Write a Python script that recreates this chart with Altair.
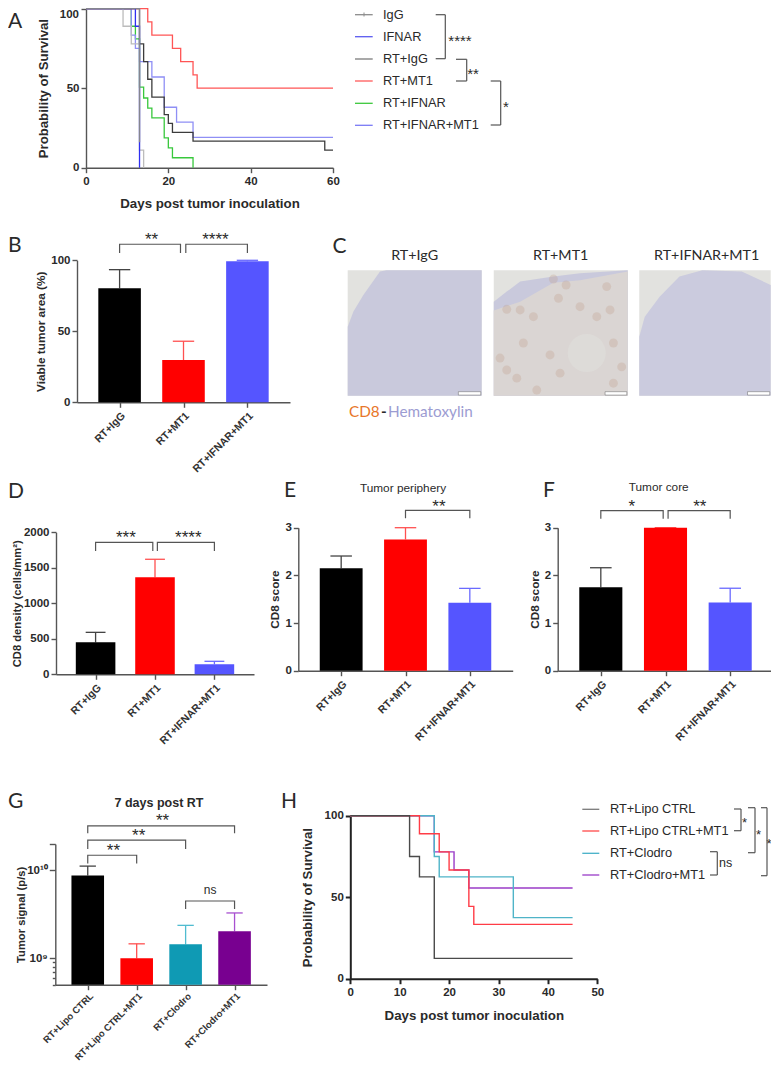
import altair as alt
import pandas as pd

# ---------- data ----------
A_SERIES = [
    ("RT+IFNAR", [0, 11, 12, 13, 14, 15, 16, 19, 20, 21, 26], [100, 88.9, 81, 50.6, 43.8, 37.5, 31.3, 18.8, 12.5, 6.25, 0], "#38c83c"),
    ("RT+IFNAR+MT1", [0, 11, 12, 13, 16, 19, 22, 26, 60], [100, 83.3, 75, 66.7, 57, 38, 28.6, 19, 19], "#8f8ff5"),
    ("RT+IgG", [0, 13, 14, 15, 16, 19, 20, 21, 26, 58, 60], [100, 77.8, 66.7, 55.6, 44.4, 33.3, 27.8, 22.2, 16.7, 11.1, 11.1], "#3c3c3c"),
    ("RT+MT1", [0, 15, 16, 21, 23, 26, 27, 60], [100, 91.7, 83.3, 75, 66.7, 58.3, 50, 50], "#ff5555"),
    ("IgG light", [0, 9, 11, 13, 14], [100, 88.9, 77.8, 11.1, 0], "#bcbcbc"),
    ("IFNAR", [0, 12, 13], [100, 88.9, 0], "#2f2ff0"),
    ("IgG", [0, 13, 13.001], [100, 100, 16], "#85858f"),
]
H_SERIES = [
    ("RT+Clodro+MT1", [0, 17, 21, 24, 45], [100, 77.8, 66.7, 55.6, 55.6], "#9a3cc8"),
    ("RT+Clodro", [0, 17, 18, 33, 45], [100, 75, 62.5, 37.5, 37.5], "#4fb4c8"),
    ("RT+Lipo CTRL+MT1", [0, 14, 18, 20, 24, 25, 45], [100, 88.9, 77.8, 66.7, 44.4, 33.3, 33.3], "#ff3c46"),
    ("RT+Lipo CTRL", [0, 12, 14, 17, 45], [100, 75, 62.5, 12.5, 12.5], "#4a4a4a"),
]
GROUPS3 = ["RT+IgG", "RT+MT1", "RT+IFNAR+MT1"]
GROUPS4 = ["RT+Lipo CTRL", "RT+Lipo CTRL+MT1", "RT+Clodro", "RT+Clodro+MT1"]
B_VAL, B_HI = [80.3, 29.8, 99.3], [93.4, 43, 100]
D_VAL, D_HI = [450, 1366, 141], [591, 1620, 183]
E_VAL, E_HI = [2.147, 2.755, 1.427], [2.406, 3.0, 1.727]
F_VAL, F_HI = [1.75, 3.0, 1.43], [2.16, 3.0, 1.73]
G_VAL, G_HI = [8.78e9, 1.0e9, 1.44e9, 2.03e9], [1.12e10, 1.46e9, 2.37e9, 3.28e9]

FILL3 = ["#000000", "#ff0000", "#5555ff"]
ERR3 = ["#444444", "#ff5050", "#6a6aff"]
FILL4 = ["#000000", "#ff0000", "#0f9ab4", "#780090"]
ERR4 = ["#444444", "#ff5050", "#50bcd0", "#a850d0"]

AX = "#555555"
TXT = "#2a2a2a"
SANS = "Liberation Sans"
CAL = "Lato"
W, H = 763, 1055
O = 8  # page margin: image pixels to chart pixels

LAYERS = []


def txt(s, x, y, size=12.8, font=SANS, weight="normal", color=TXT, align="left", baseline="middle", **kw):
    LAYERS.append(alt.Chart().mark_text(text=s, fontSize=size, font=font, fontWeight=weight, color=color,
                                        align=align, baseline=baseline, **kw).encode(
        x=alt.value(x - O), y=alt.value(y - O)))


def seg(x1, y1, x2, y2, color="#555555", w=1.2):
    if y1 == y2:
        LAYERS.append(alt.Chart().mark_rule(color=color, strokeWidth=w).encode(
            x=alt.value(x1 - O), x2=alt.value(x2 - O), y=alt.value(y1 - O)))
    else:
        LAYERS.append(alt.Chart().mark_rule(color=color, strokeWidth=w).encode(
            x=alt.value(x1 - O), y=alt.value(y1 - O), y2=alt.value(y2 - O)))


def legend_bracket(x1, x2, y1, y2):
    seg(x1, y1, x2, y1)
    seg(x2, y1, x2, y2)
    seg(x1, y2, x2, y2)


def yaxis(x0, values, title, pad, tick_w=1.4, color=AX, title_size=11.8, **kw):
    kw.setdefault("format", "d")
    return alt.Axis(values=values, title=title, orient="left", offset=-(x0 - O), grid=False, domainColor=color,
                    domainWidth=tick_w, tickColor=color, tickWidth=tick_w, tickSize=kw.pop("tickSize", 5), labelFont=SANS,
                    labelFontWeight="bold", labelFontSize=11.5, labelColor=TXT, labelPadding=2, labelOverlap=False,
                    titleFont=SANS, titleFontWeight="bold", titleFontSize=title_size, titleColor=TXT,
                    titlePadding=pad, **kw)


def xaxis_names(ybot, values, names, pad=3, size=11):
    expr = "[" + ",".join("'%s'" % n for n in names) + "][datum.value]"
    return alt.Axis(values=values, title=None, orient="bottom", offset=-(H - (ybot - O)), grid=False, domainColor=AX,
                    domainWidth=1.4, tickColor=AX, tickWidth=1.4, tickSize=5, labelExpr=expr, labelAngle=-45,
                    labelAlign="right", labelBaseline="top", labelFont=SANS, labelFontWeight="bold", labelFontSize=size,
                    labelColor="#333333", labelPadding=pad, labelOverlap=False, labelBound=False, labelFlush=False)


def xaxis_num(ybot, values, title, pad, tick_w=1.4, color=AX):
    return alt.Axis(values=values, title=title, orient="bottom", offset=-(H - (ybot - O)), grid=False, domainColor=color,
                    domainWidth=tick_w, tickColor=color, tickWidth=tick_w, tickSize=5, format="d", labelFont=SANS,
                    labelFontWeight="bold", labelFontSize=11.5, labelColor=TXT, labelPadding=3, labelOverlap=False,
                    labelFlush=False, titleFont=SANS, titleFontWeight="bold", titleFontSize=13.3, titleColor=TXT,
                    titlePadding=pad)


def km(series, sx, sy, xax, yax, width=1.3):
    for k, (name, t, s, col) in enumerate(series):
        df = pd.DataFrame({"t": t, "s": s})
        LAYERS.append(alt.Chart(df).mark_line(interpolate="step-after", color=col, strokeWidth=width, clip=False).encode(
            x=alt.X("t:Q", scale=sx, axis=xax if k == 0 else None),
            y=alt.Y("s:Q", scale=sy, axis=yax if k == 0 else None),
        ))


def bar_panel(plot, names, vals, his, fills, errs, ydom, yvals, ytitle, brackets, stars, ypad,
              ylog=False, yaxis_extra=None, floor=0, size=10.6, xpad=3, title_size=11.8):
    x0, x1, ytop, ybot = plot
    n = len(names)
    step_pad = 0.6665 if n == 3 else 0.663
    sx = alt.Scale(domain=[-step_pad, n - 1 + step_pad], range=[x0 - O, x1 - O], nice=False, zero=False)
    kw = dict(type="log", base=10) if ylog else {}
    sy = alt.Scale(domain=ydom, range=[ybot - O, ytop - O], nice=False, zero=False, **kw)
    df = pd.DataFrame({"i": list(range(n)), "v": vals, "hi": his, "fill": fills, "err": errs})
    df["l"] = df.i - 0.333
    df["r"] = df.i + 0.333
    df["cl"] = df.i - 0.167
    df["cr"] = df.i + 0.167
    df["base"] = floor
    yax = yaxis(x0, yvals, ytitle, ypad, title_size=title_size, **(yaxis_extra or {}))
    xax = xaxis_names(ybot, list(range(n)), names, size=size, pad=xpad)
    LAYERS.append(alt.Chart(df).mark_rule(strokeWidth=1.3).encode(
        x=alt.X("i:Q", scale=sx, axis=xax), y=alt.Y("v:Q", scale=sy, axis=yax), y2="hi:Q",
        color=alt.Color("err:N", scale=None)))
    LAYERS.append(alt.Chart(df).mark_rule(strokeWidth=1.3).encode(
        x=alt.X("cl:Q", scale=sx, axis=None), x2="cr:Q", y=alt.Y("hi:Q", scale=sy, axis=None),
        color=alt.Color("err:N", scale=None)))
    LAYERS.append(alt.Chart(df).mark_rect().encode(
        x=alt.X("l:Q", scale=sx, axis=None), x2="r:Q", y=alt.Y("v:Q", scale=sy, axis=None), y2="base:Q",
        color=alt.Color("fill:N", scale=None)))
    rows = []
    for b, (xa, xb, top, la, lb) in enumerate(brackets):
        rows += [dict(b=b, k=0, x=xa, y=la), dict(b=b, k=1, x=xa, y=top), dict(b=b, k=2, x=xb, y=top), dict(b=b, k=3, x=xb, y=lb)]
    LAYERS.append(alt.Chart(pd.DataFrame(rows)).mark_line(color="#555555", strokeWidth=1.2, clip=False).encode(
        x=alt.X("x:Q", scale=sx, axis=None), y=alt.Y("y:Q", scale=sy, axis=None), detail="b:N", order="k:Q"))
    for (sxv, syv, s) in stars:
        is_star = "*" in s
        LAYERS.append(alt.Chart(pd.DataFrame({"x": [sxv], "y": [syv]})).mark_text(
            text=s, fontSize=17 if is_star else 12, font=SANS, color=TXT, baseline="middle", align="center",
            dy=4 if is_star else 0).encode(
            x=alt.X("x:Q", scale=sx, axis=None), y=alt.Y("y:Q", scale=sy, axis=None)))


# ---------- A ----------
Ax0, Ax1, Atop, Abot = 86, 333, 8.6, 167.7
a_sx = alt.Scale(domain=[0, 60], range=[Ax0 - O, Ax1 - O], nice=False, zero=False)
a_sy = alt.Scale(domain=[0, 100], range=[Abot - O, Atop - O], nice=False, zero=False)
a_yax = yaxis(Ax0, [0, 50, 100], "Probability of Survival", 16, title_size=13.2,
              labelExpr="datum.value==100?'':datum.label")
a_xax = xaxis_num(Abot, [0, 20, 40, 60], "Days post tumor inoculation", 9)
km(A_SERIES, a_sx, a_sy, a_xax, a_yax, 1.3)
LAYERS.append(alt.Chart(pd.DataFrame({"y": [100]})).mark_text(
    text="100", fontSize=11.5, font=SANS, fontWeight="bold", color=TXT, align="right", baseline="top", dx=-7).encode(
    x=alt.value(Ax0 - O), y=alt.Y("y:Q", scale=a_sy, axis=None)))
txt("A", 8, 11, 21, CAL, baseline="top")
A_LEG = [("IgG", "#8c8c8c", 14.7), ("IFNAR", "#5a5af0", 36.7), ("RT+IgG", "#7a7a7a", 59), ("RT+MT1", "#ff5a5a", 81),
         ("RT+IFNAR", "#3cc83c", 103.3), ("RT+IFNAR+MT1", "#7a7af5", 125.3)]
for name, col, y in A_LEG:
    seg(355, y, 372.7, y, col, 1.3)
    txt(name, 383, y, 12.8)
seg(364, 12.5, 364, 16.5, "#8c8c8c", 1)
legend_bracket(435.7, 445.3, 14.7, 58.7)
legend_bracket(456, 466.7, 59.3, 81)
legend_bracket(490.7, 500.7, 81, 125)
txt("****", 460, 41, 15, align="center")
txt("**", 473, 74, 15, align="center")
txt("*", 506, 107, 15, align="center")

# ---------- B ----------
bar_panel((77, 290, 260.3, 402.3), GROUPS3, B_VAL, B_HI, FILL3, ERR3, [0, 100], [0, 50, 100],
          "Viable tumor area (%)",
          [(0, 0.953, 111.3, 105.2, 105.2), (1.036, 2, 111.3, 105.2, 105.2)],
          [(0.5, 117.4, "**"), (1.5, 117.4, "****")], 4)
txt("B", 8, 246, 21, CAL)

# ---------- C ----------
C_RECT_L = [0, 1.09, 2.176]
C_RECT_R = [1, 2.09, 3.157]
C1_X, C1_Y = [0, 0.042, 0.117, 0.241, 0.29, 1], [0.45, 0.33, 0.197, 0.01, 0, 0]
C2A_X, C2A_Y = [1.09, 1.187, 1.287, 1.535, 1.734, 2.09], [0.25, 0.17, 0.09, 0.05, 0.024, 0]
C2B_X, C2B_Y = [1.09, 1.287, 1.535, 1.734, 2.09], [0.32, 0.25, 0.10, 0.08, 0.01]
C3_X, C3_Y = [2.176, 2.217, 2.328, 2.476, 2.647, 2.941, 3.157], [0.53, 0.37, 0.21, 0.05, 0, 0.01, 0.117]
C_SPOT_X = [1.535, 1.63, 1.933, 1.573, 1.958, 1.187, 1.386, 1.287, 1.137, 1.51, 1.585, 1.262, 1.411, 1.983, 2.045,
            1.311, 1.187, 1.983, 1.734, 1.859]
C_SPOT_Y = [0.07, 0.117, 0.13, 0.223, 0.316, 0.311, 0.37, 0.316, 0.70, 0.675, 0.82, 0.86, 0.955, 0.58, 0.77, 0.58,
            0.795, 0.90, 0.29, 0.37]
C_BAR_L = [0.826, 1.921, 2.984]
C_BAR_R = [0.993, 2.083, 3.15]
c_sx = alt.Scale(domain=[0, 3.157], range=[347.7 - O, 770.7 - O], nice=False, zero=False)
c_sy = alt.Scale(domain=[0, 1], range=[270.3 - O, 395.7 - O], nice=False, zero=False)


def c_area(xs, ys, col):
    df = pd.DataFrame({"x": xs, "y": ys, "b": [1] * len(xs)})
    LAYERS.append(alt.Chart(df).mark_area(color=col).encode(
        x=alt.X("x:Q", scale=c_sx, axis=None), y=alt.Y("y:Q", scale=c_sy, axis=None), y2="b:Q"))


LAYERS.append(alt.Chart(pd.DataFrame({"l": C_RECT_L, "r": C_RECT_R, "t": [0] * 3, "b": [1] * 3})).mark_rect(
    color="#e2e2df").encode(
    x=alt.X("l:Q", scale=c_sx, axis=None), x2="r:Q", y=alt.Y("t:Q", scale=c_sy, axis=None), y2="b:Q"))
c_area(C1_X, C1_Y, "#c9c9dc")
c_area(C2A_X, C2A_Y, "#c9c9dc")
c_area(C2B_X, C2B_Y, "#dad5d3")
c_area(C3_X, C3_Y, "#cbcbde")
LAYERS.append(alt.Chart(pd.DataFrame({"x": C_SPOT_X, "y": C_SPOT_Y})).mark_circle(
    color="#bd9c84", opacity=0.28, size=80).encode(
    x=alt.X("x:Q", scale=c_sx, axis=None), y=alt.Y("y:Q", scale=c_sy, axis=None)))
LAYERS.append(alt.Chart(pd.DataFrame({"x": [1.784], "y": [0.66]})).mark_circle(
    color="#dddbd8", opacity=0.95, size=1450).encode(
    x=alt.X("x:Q", scale=c_sx, axis=None), y=alt.Y("y:Q", scale=c_sy, axis=None)))
LAYERS.append(alt.Chart(pd.DataFrame({"l": C_BAR_L, "r": C_BAR_R, "t": [0.968] * 3, "b": [0.995] * 3})).mark_rect(
    color="#ffffff", stroke="#666666", strokeWidth=0.5).encode(
    x=alt.X("l:Q", scale=c_sx, axis=None), x2="r:Q", y=alt.Y("t:Q", scale=c_sy, axis=None), y2="b:Q"))
for s, x in zip(GROUPS3, [414.7, 560.7, 706.7]):
    txt(s, x, 255.7, 14.3, CAL, align="center")
txt("C", 332.5, 247, 21, CAL)
txt("CD8", 349, 412, 15.3, CAL, color="#e8762a")
txt("-", 381, 412, 15.3, CAL, weight="bold")
txt("Hematoxylin", 388, 412, 15.3, CAL, color="#9c9cd2")

# ---------- D / E / F ----------
bar_panel((56, 254, 532.3, 674.3), GROUPS3, D_VAL, D_HI, FILL3, ERR3, [0, 2000],
          [0, 500, 1000, 1500, 2000], "CD8 density (cells/mm²)",
          [(0, 0.963, 1859, 1737, 1737), (1.04, 2, 1859, 1737, 1737)],
          [(0.51, 1972, "***"), (1.56, 1972, "****")], 0.5, title_size=11.2)
txt("D", 8, 492, 21, CAL)

bar_panel((298.3, 512.7, 527.7, 670.7), GROUPS3, E_VAL, E_HI, FILL3, ERR3, [0, 3], [0, 1, 2, 3],
          "CD8 score", [(1, 2, 3.364, 3.196, 3.196)], [(1.52, 3.524, "**")], 4)
txt("E", 284, 491, 21, CAL)
txt("Tumor periphery", 403, 488, 11.8, align="center")

bar_panel((557.7, 773.3, 527.7, 670.7), GROUPS3, F_VAL, F_HI, FILL3, ERR3, [0, 3], [0, 1, 2, 3],
          "CD8 score", [(0, 0.964, 3.36, 3.19, 3.19), (1.04, 2, 3.36, 3.19, 3.19)],
          [(0.48, 3.524, "*"), (1.53, 3.524, "**")], 4)
txt("F", 543, 491, 21, CAL)
txt("Tumor core", 658.7, 486.7, 11.8, align="center")

# ---------- G ----------
G_TICKS = [5e8, 6e8, 7e8, 8e8, 9e8, 1e9, 1e10, 2e10]
g_extra = dict(labelExpr="datum.value==1e10?'10¹⁰':datum.value==1e9?'10⁹':''",
               tickSize={"condition": {"test": "datum.value>=1e9", "value": 6}, "value": 3})
bar_panel((55.3, 267, 844, 984.7), GROUPS4, G_VAL, G_HI, FILL4, ERR4, [5e8, 2e10], G_TICKS,
          "Tumor signal (p/s)",
          [(0, 3, 3.22e10, 2.65e10, 2.65e10), (0, 2, 2.21e10, 1.75e10, 1.75e10),
           (0, 1, 1.49e10, 1.2e10, 1.2e10), (2, 3, 4.49e9, 3.64e9, 3.64e9)],
          [(1.53, 4.11e10, "**"), (1.04, 2.75e10, "**"), (0.525, 1.86e10, "**"), (2.5, 5.93e9, "ns")],
          0, ylog=True, yaxis_extra=g_extra, floor=5e8, size=9.5, xpad=1, title_size=11.2)
txt("G", 8, 802, 21, CAL)
txt("7 days post RT", 159, 802.7, 12.5, weight="bold", align="center")

# ---------- H ----------
Hx0, Hx1, Htop, Hbot = 350.3, 597.3, 815.7, 978.7
h_sx = alt.Scale(domain=[0, 50], range=[Hx0 - O, Hx1 - O], nice=False, zero=False)
h_sy = alt.Scale(domain=[0, 100], range=[Hbot - O, Htop - O], nice=False, zero=False)
h_yax = yaxis(Hx0, [0, 50, 100], "Probability of Survival", 10, tick_w=2, color="#222222", title_size=13.2)
h_xax = xaxis_num(Hbot, [0, 10, 20, 30, 40, 50], "Days post tumor inoculation", 10, 2, "#222222")
km(H_SERIES, h_sx, h_sy, h_xax, h_yax, 1.4)
H_LEG = [("RT+Lipo CTRL", "#7a7a7a", 809.3), ("RT+Lipo CTRL+MT1", "#ff4a4a", 831), ("RT+Clodro", "#45b0c8", 853.3),
         ("RT+Clodro+MT1", "#9a3cc8", 875)]
for name, col, y in H_LEG:
    seg(582.3, y, 599.3, y, col, 1.3)
    txt(name, 610, y, 12.8)
legend_bracket(734, 741, 809, 830.7)
legend_bracket(748, 755, 807.7, 852.7)
legend_bracket(761, 767, 807.7, 875.7)
legend_bracket(710, 717.3, 851.7, 875)
txt("*", 744.5, 823, 13, align="center")
txt("*", 758.5, 835, 13, align="center")
txt("*", 769, 844, 13, align="center")
txt("ns", 725.7, 862.7, 12.5, align="center")
txt("H", 281, 802, 21, CAL)

chart = alt.layer(*LAYERS).resolve_scale(x="independent", y="independent").properties(
    width=W, height=H, padding=0, background="white",
    autosize=alt.AutoSizeParams(type="none", contains="padding")).configure_view(stroke=None)
chart.save("out.html", embed_options={"renderer": "svg", "actions": False})
